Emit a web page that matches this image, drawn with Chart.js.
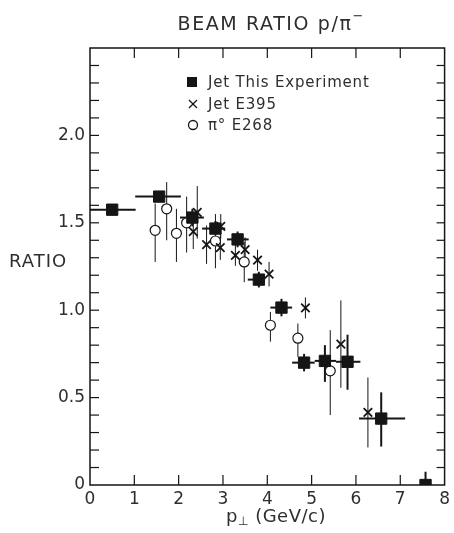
<!DOCTYPE html>
<html>
<head>
<meta charset="utf-8">
<script src="https://cdn.jsdelivr.net/npm/chart.js@4.4.0/dist/chart.umd.min.js"></script>
<style>
  html, body { margin: 0; padding: 0; background: #fff; }
  canvas { display: block; }
</style>
</head>
<body>
<canvas id="grafico" width="454" height="533"></canvas>
<script>
// Jet, this experiment (filled squares), x bins and vertical errors
const jetX   = [0.50, 1.56, 2.31, 2.83, 3.33, 3.81, 4.32, 4.83, 5.30, 5.81, 6.57, 7.57];
const jetY   = [1.575, 1.65, 1.53, 1.467, 1.405, 1.175, 1.015, 0.70, 0.71, 0.705, 0.38, 0.0];
const jetXLo = [0.00, 1.02, 2.03, 2.53, 3.09, 3.56, 4.07, 4.56, 5.07, 5.55, 6.07, 7.57];
const jetXHi = [1.03, 2.05, 2.57, 3.05, 3.58, 3.95, 4.56, 5.07, 5.55, 6.10, 7.11, 7.57];
const jetYLo = [1.575, 1.65, 1.48, 1.43, 1.36, 1.13, 0.965, 0.65, 0.59, 0.545, 0.22, 0.0];
const jetYHi = [1.575, 1.65, 1.58, 1.51, 1.45, 1.22, 1.065, 0.75, 0.80, 0.86, 0.53, 0.076];

// Jet E395 (crosses)
const e395X   = [2.33, 2.42, 2.63, 2.94, 2.95, 3.28, 3.50, 3.78, 4.04, 4.86, 5.66, 6.27];
const e395Y   = [1.45, 1.56, 1.375, 1.358, 1.48, 1.314, 1.347, 1.286, 1.206, 1.013, 0.806, 0.415];
const e395Err = [0.10, 0.15, 0.11, 0.07, 0.07, 0.06, 0.07, 0.06, 0.07, 0.06, 0.25, 0.20];

// pi0 E268 (open circles)
const e268X  = [1.47, 1.73, 1.95, 2.18, 2.83, 3.48, 4.07, 4.69, 5.42];
const e268Y  = [1.457, 1.58, 1.44, 1.50, 1.396, 1.276, 0.914, 0.84, 0.653];
const e268Lo = [1.276, 1.40, 1.276, 1.33, 1.24, 1.16, 0.82, 0.733, 0.40];
const e268Hi = [1.61, 1.733, 1.58, 1.65, 1.55, 1.39, 0.99, 0.924, 0.886];

const xTicks = [0, 1, 2, 3, 4, 5, 6, 7, 8];
const yLabels = [0, 0.5, 1.0, 1.5, 2.0];

const FONTE = '"DejaVu Sans", sans-serif';
const TINTA = '#151515';
const TEXTO = '#2e2e2e';

function linha(ctx, x1, y1, x2, y2) {
    ctx.beginPath();
    ctx.moveTo(x1, y1);
    ctx.lineTo(x2, y2);
    ctx.stroke();
}

// error bars, drawn under the markers
const barrasErro = {
    id: 'barrasErro',
    beforeDatasetsDraw(chart) {
        const { ctx, scales: { x, y } } = chart;
        ctx.save();
        ctx.strokeStyle = TINTA;

        ctx.lineWidth = 1;
        e268X.forEach((v, i) => {
            const px = x.getPixelForValue(v);
            linha(ctx, px, y.getPixelForValue(e268Lo[i]), px, y.getPixelForValue(e268Hi[i]));
        });
        e395X.forEach((v, i) => {
            const px = x.getPixelForValue(v);
            linha(ctx, px, y.getPixelForValue(e395Y[i] - e395Err[i]), px, y.getPixelForValue(e395Y[i] + e395Err[i]));
        });

        ctx.lineWidth = 2;
        jetX.forEach((v, i) => {
            const px = x.getPixelForValue(v);
            const py = y.getPixelForValue(jetY[i]);
            if (jetXLo[i] !== jetXHi[i]) {
                linha(ctx, x.getPixelForValue(jetXLo[i]), py, x.getPixelForValue(jetXHi[i]), py);
            }
            if (jetYLo[i] !== jetYHi[i]) {
                linha(ctx, px, y.getPixelForValue(jetYLo[i]), px, y.getPixelForValue(jetYHi[i]));
            }
        });
        ctx.restore();
    }
};

// frame with inward ticks, titles and legend
const moldura = {
    id: 'moldura',
    afterDraw(chart) {
        const { ctx, chartArea: a, scales: { x, y } } = chart;
        ctx.save();
        ctx.strokeStyle = TINTA;
        ctx.lineWidth = 1.5;
        ctx.strokeRect(a.left, a.top, a.right - a.left, a.bottom - a.top);

        ctx.lineWidth = 1.2;
        for (let k = 1; k < 25; k++) {
            const py = y.getPixelForValue(k / 10);
            linha(ctx, a.left, py, a.left + 9, py);
            linha(ctx, a.right, py, a.right - 8, py);
        }
        xTicks.slice(1, -1).forEach(v => {
            const px = x.getPixelForValue(v);
            linha(ctx, px, a.bottom, px, a.bottom - 10);
            linha(ctx, px, a.top, px, a.top + 10);
        });

        ctx.fillStyle = TEXTO;
        // title
        ctx.textBaseline = 'alphabetic';
        ctx.textAlign = 'left';
        ctx.font = '19px ' + FONTE;
        ctx.letterSpacing = '1.6px';
        const titulo = 'BEAM RATIO p/\u03c0';
        const wT = ctx.measureText(titulo).width;
        const x0 = 270 - wT / 2 - 5;
        ctx.fillText(titulo, x0, 30);
        ctx.font = '13px ' + FONTE;
        ctx.fillText('\u2212', x0 + wT, 20);

        // y title
        ctx.font = '18px ' + FONTE;
        ctx.letterSpacing = '1px';
        ctx.textBaseline = 'middle';
        ctx.fillText('RATIO', 9, 262);

        // x title
        ctx.letterSpacing = '0.5px';
        const p1 = 'p', p2 = '\u22a5', p3 = ' (GeV/c)';
        ctx.font = '18px ' + FONTE;
        const w1 = ctx.measureText(p1).width, w3 = ctx.measureText(p3).width;
        ctx.font = '12px ' + FONTE;
        const w2 = ctx.measureText(p2).width;
        const xs = 276 - (w1 + w2 + w3) / 2;
        ctx.font = '18px ' + FONTE;
        ctx.fillText(p1, xs, 517);
        ctx.font = '12px ' + FONTE;
        ctx.fillText(p2, xs + w1, 522);
        ctx.font = '18px ' + FONTE;
        ctx.fillText(p3, xs + w1 + w2, 517);

        // legend
        ctx.letterSpacing = '0.8px';
        ctx.font = '15px ' + FONTE;
        const linhas = [82, 104, 125];
        chart.data.datasets.forEach((ds, i) => {
            ctx.fillText(ds.label, 208, linhas[i] + 1);
        });
        ctx.fillStyle = TINTA;
        ctx.fillRect(187, 77, 10, 10);
        ctx.lineWidth = 1.3;
        linha(ctx, 189, 100, 197, 108);
        linha(ctx, 197, 100, 189, 108);
        ctx.beginPath();
        ctx.arc(193, 125, 4.5, 0, Math.PI * 2);
        ctx.stroke();
        ctx.restore();
    }
};

const pontos = (xs, ys) => xs.map((v, i) => ({ x: v, y: ys[i] }));

new Chart(document.getElementById('grafico').getContext('2d'), {
    type: 'scatter',
    data: {
        datasets: [{
            label: 'Jet This Experiment',
            data: pontos(jetX, jetY),
            pointStyle: 'rect',
            pointRadius: 8,
            backgroundColor: TINTA,
            borderColor: TINTA,
            borderWidth: 1
        }, {
            label: 'Jet E395',
            data: pontos(e395X, e395Y),
            pointStyle: 'crossRot',
            pointRadius: 6,
            borderColor: TINTA,
            borderWidth: 1.8
        }, {
            label: '\u03c0\u00b0 E268',
            data: pontos(e268X, e268Y),
            pointStyle: 'circle',
            pointRadius: 5,
            backgroundColor: '#fff',
            borderColor: TINTA,
            borderWidth: 1.2
        }]
    },
    options: {
        responsive: false,
        animation: false,
        layout: { padding: { top: 48, right: 6, left: 0, bottom: 0 } },
        plugins: { legend: { display: false }, tooltip: { enabled: false } },
        scales: {
            x: {
                type: 'linear', min: 0, max: 8,
                afterBuildTicks: s => { s.ticks = xTicks.map(v => ({ value: v })); },
                ticks: { font: { size: 17, family: FONTE }, color: TEXTO, padding: 4, maxRotation: 0, autoSkip: false },
                grid: { display: false, drawTicks: false },
                border: { display: false },
                afterFit: s => { s.height = 48; }
            },
            y: {
                type: 'linear', min: 0, max: 2.5,
                afterBuildTicks: s => { s.ticks = yLabels.map(v => ({ value: v })); },
                ticks: {
                    font: { size: 17, family: FONTE }, color: TEXTO, padding: 5,
                    callback: v => v === 0 ? '0' : v.toFixed(1)
                },
                grid: { display: false, drawTicks: false },
                border: { display: false },
                afterFit: s => { s.width = 90; }
            }
        }
    },
    plugins: [barrasErro, moldura]
});
</script>
</body>
</html>
